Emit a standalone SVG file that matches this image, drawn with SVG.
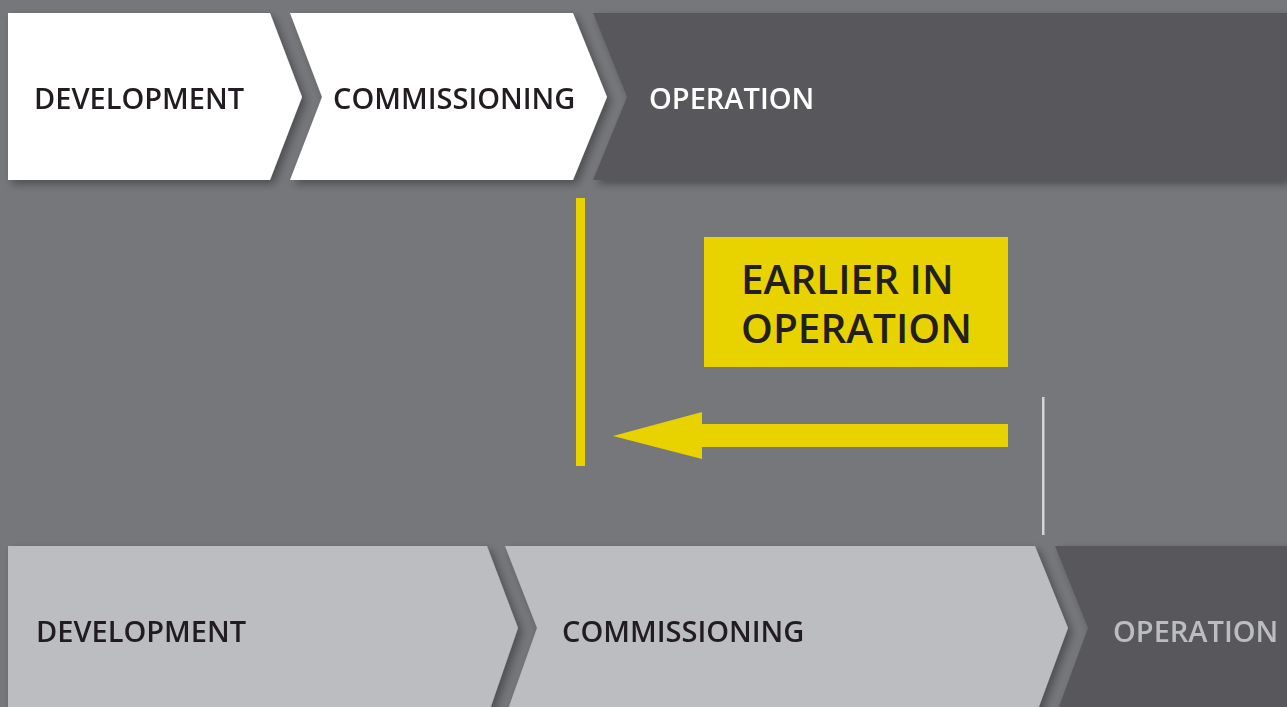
<svg xmlns="http://www.w3.org/2000/svg" width="1287" height="707" viewBox="0 0 1287 707">
<style>
.lbl{font-family:"Open Sans","Liberation Sans",sans-serif;font-weight:600;font-size:29px}
.dark{fill:#231f20}
.big{font-family:"Open Sans","Liberation Sans",sans-serif;font-weight:600;font-size:40.5px;fill:#231f20}
</style>
<defs>
<filter id="sh" x="-10%" y="-10%" width="130%" height="130%">
<feDropShadow dx="4" dy="4" stdDeviation="4" flood-color="#000" flood-opacity="0.35"/>
</filter>
</defs>
<rect width="1287" height="707" fill="#76777b"/>
<g id="top-operation" filter="url(#sh)">
<polygon points="593,13 1287,13 1287,180 593,180 627,97" fill="#58595b"/>
<text class="lbl" x="649" y="109" fill="#ffffff">OPERATION</text>
</g>
<g id="top-commissioning" filter="url(#sh)">
<polygon points="290,13 573,13 607,97 573,180 290,180 322,97" fill="#ffffff"/>
<text class="lbl dark" x="333" y="109">COMMISSIONING</text>
</g>
<g id="top-development" filter="url(#sh)">
<polygon points="8,13 270,13 302,97 270,180 8,180" fill="#ffffff"/>
<text class="lbl dark" x="34" y="109">DEVELOPMENT</text>
</g>
<g id="bottom-operation" filter="url(#sh)">
<polygon points="1055,546 1290,546 1290,712 1057,712 1088,628" fill="#58595b"/>
<text class="lbl" x="1113" y="642" fill="#bcbdc1">OPERATION</text>
</g>
<g id="bottom-commissioning" filter="url(#sh)">
<polygon points="505,546 1035,546 1068,628 1037,712 507,712 537,628" fill="#bcbdc1"/>
<text class="lbl dark" x="562" y="642">COMMISSIONING</text>
</g>
<g id="bottom-development" filter="url(#sh)">
<polygon points="8,546 487,546 518,628 489,712 8,712" fill="#bcbdc1"/>
<text class="lbl dark" x="36" y="642">DEVELOPMENT</text>
</g>
<g id="label-earlier">
<rect x="704" y="237" width="304" height="130" fill="#e8d200"/>
<text class="big"><tspan x="741" y="294">EARLIER IN</tspan><tspan x="741" y="343">OPERATION</tspan></text>
</g>
<g id="connectors">
<rect x="576" y="198" width="9" height="268" fill="#e8d200"/>
<polygon points="1008,424 702,424 702,412 613,436 702,459 702,447 1008,447" fill="#e8d200"/>
<rect x="1042" y="397" width="2.5" height="138" fill="#d4d5d7"/>
</g>
</svg>
